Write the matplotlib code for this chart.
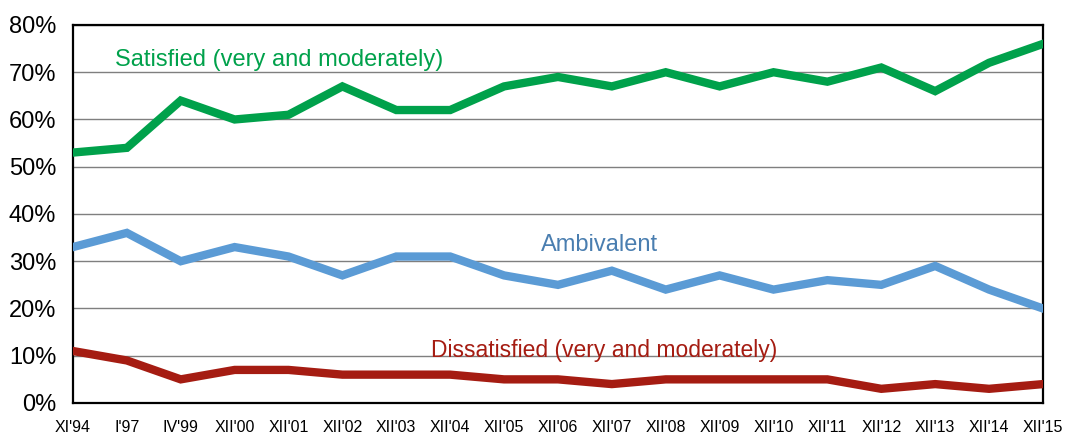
import matplotlib
matplotlib.use("Agg")
import matplotlib.pyplot as plt

# Survey waves and shares (%)
waves = ["XI'94", "I'97", "IV'99", "XII'00", "XII'01", "XII'02", "XII'03", "XII'04",
         "XII'05", "XII'06", "XII'07", "XII'08", "XII'09", "XII'10", "XII'11",
         "XII'12", "XII'13", "XII'14", "XII'15"]
satisfied = [53, 54, 64, 60, 61, 67, 62, 62, 67, 69, 67, 70, 67, 70, 68, 71, 66, 72, 76]
ambivalent = [33, 36, 30, 33, 31, 27, 31, 31, 27, 25, 28, 24, 27, 24, 26, 25, 29, 24, 20]
dissatisfied = [11, 9, 5, 7, 7, 6, 6, 6, 5, 5, 4, 5, 5, 5, 5, 3, 4, 3, 4]

GREEN = "#00A14B"
BLUE = "#5B9BD5"
RED = "#A51C12"

plt.rcParams["font.family"] = ["Liberation Sans", "DejaVu Sans"]

fig = plt.figure(figsize=(10.65, 4.36), dpi=100)
ax = fig.add_axes([0.0685, 0.0757, 0.9108, 0.867])

x = list(range(len(waves)))
ax.plot(x, satisfied, color=GREEN, lw=6, solid_joinstyle="miter", zorder=3)
ax.plot(x, ambivalent, color=BLUE, lw=6, solid_joinstyle="miter", zorder=3)
ax.plot(x, dissatisfied, color=RED, lw=6, solid_joinstyle="miter", zorder=3)

ax.text(0.78, 72.6, "Satisfied (very and moderately)", color=GREEN, fontsize=17,
        va="center", ha="left")
ax.text(9.78, 33.4, "Ambivalent", color="#4A7EB0", fontsize=17, va="center", ha="center")
ax.text(9.85, 11.2, "Dissatisfied (very and moderately)", color=RED, fontsize=16.5,
        va="center", ha="center")

ax.set_xlim(0, len(waves) - 1)
ax.set_ylim(0, 80)
ax.set_xticks(x)
ax.set_xticklabels(waves, fontsize=11.5)
ax.set_yticks(range(0, 81, 10))
ax.set_yticklabels([f"{v}%" for v in range(0, 81, 10)], fontsize=17)
ax.tick_params(axis="both", length=0)
ax.tick_params(axis="y", pad=12)
ax.tick_params(axis="x", pad=12)

ax.yaxis.grid(True, color="#7f7f7f", lw=1)
ax.set_axisbelow(True)
for s in ax.spines.values():
    s.set_color("black")
    s.set_linewidth(1.6)

fig.savefig("out.png", dpi=100)
